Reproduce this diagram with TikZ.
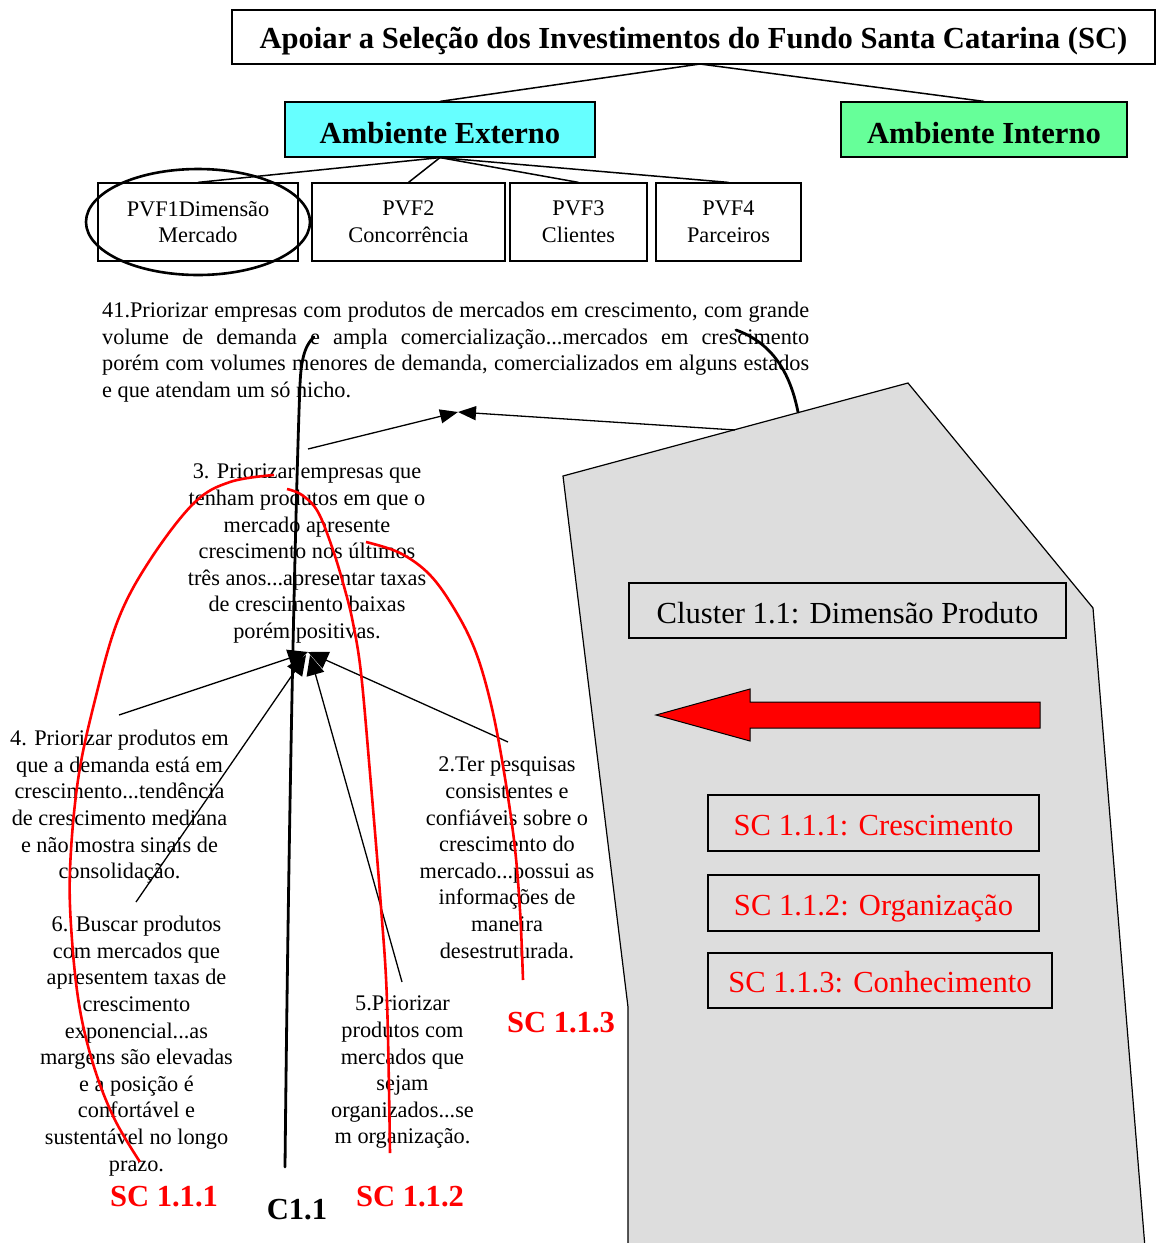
\documentclass[tikz,border=0pt]{standalone}
\usepackage{fontspec}
\setmainfont{Liberation Serif}
\usetikzlibrary{arrows.meta,calc}
\definecolor{extcyan}{RGB}{102,255,255}
\definecolor{intgreen}{RGB}{102,255,153}
\definecolor{clgray}{RGB}{221,221,221}
\definecolor{scred}{RGB}{255,0,0}
\newcommand\bigtxt{\fontsize{30.6}{36}\selectfont}
\newcommand\smalltxt{\fontsize{22.3}{26.6}\selectfont}
\begin{document}
\begin{tikzpicture}[x=1pt,y=-1pt,
  box/.style={draw, line width=1.2pt, inner sep=0pt, align=center},
  bigbox/.style={box, font=\bigtxt, text height=24pt, text depth=0pt},
  pvfbox/.style={box, font=\smalltxt, minimum height=78pt},
  scbox/.style={bigbox, text=scred, minimum height=56pt},
  note/.style={inner sep=0pt, align=center, font=\smalltxt, anchor=north},
  tree/.style={line width=1.5pt},
  link/.style={line width=1.3pt, -{Triangle[length=18pt,width=14pt]}},
  hublink/.style={line width=1.3pt, -{Triangle[length=20pt,width=18pt]}},
  thick curve/.style={line width=2.8pt, line cap=round},
  redcurve/.style={line width=2.6pt, scred},
  sclabel/.style={font=\bigtxt\bfseries, text=scred, inner sep=0pt}]
\useasboundingbox (0,0) rectangle (1157,1243);

% cluster region and its contents
\path[draw=black, line width=1.2pt, fill=clgray]
  (563,476) -- (908,383) -- (1093,608) -- (1146,1260) -- (628,1260) -- (628,1007) -- cycle;
\node[bigbox, fill=clgray, text height=25pt, minimum width=437pt, minimum height=55pt] (cluster) at (847.5,610.5) {Cluster 1.1: Dimensão Produto};
\path[draw=black, line width=1pt, fill=scred]
  (656,715) -- (750,689) -- (750,702) -- (1040,702) -- (1040,728) -- (750,728) -- (750,741) -- cycle;
\node[scbox, minimum width=331pt] (sc1) at (873.5,823) {SC 1.1.1: Crescimento};
\node[scbox, minimum width=331pt] (sc2) at (873.5,903) {SC 1.1.2: Organização};
\node[scbox, minimum width=344pt, minimum height=55pt] (sc3) at (880,980.5) {SC 1.1.3: Conhecimento};

% hierarchy at the top
\node[bigbox, font=\bigtxt\bfseries, text height=22pt, minimum width=923pt, minimum height=54pt] (goal) at (693.5,37) {Apoiar a Seleção dos Investimentos do Fundo Santa Catarina (SC)};
\node[bigbox, font=\bigtxt\bfseries, text height=27pt, fill=extcyan, minimum width=310pt, minimum height=55pt] (ext) at (440,129.5) {Ambiente Externo};
\node[bigbox, font=\bigtxt\bfseries, text height=27pt, fill=intgreen, minimum width=286pt, minimum height=55pt] (int) at (984,129.5) {Ambiente Interno};
\node[pvfbox, minimum width=200pt] (pvf1) at (198,222) {PVF1Dimensão\\Mercado};
\node[pvfbox, minimum width=193pt] (pvf2) at (408.5,222) {PVF2\\Concorrência};
\node[pvfbox, minimum width=137pt] (pvf3) at (578.5,222) {PVF3\\Clientes};
\node[pvfbox, minimum width=145pt] (pvf4) at (728.5,222) {PVF4\\Parceiros};
\coordinate (goalfoot) at (700,64);
\draw[tree] (goalfoot) -- (ext.north);
\draw[tree] (goalfoot) -- (int.north);
\foreach \p in {pvf1,pvf2,pvf3,pvf4} \draw[tree] (ext.south) -- (\p.north);
\draw[line width=2.6pt] (pvf1.center) ellipse [x radius=112pt, y radius=53pt];

% objectives
\node[inner sep=0pt, anchor=north west, text width=707pt, align=justify, font=\smalltxt] (t41) at (102,302)
 {41.Priorizar empresas com produtos de mercados em crescimento, com grande\linebreak
  volume de demanda e ampla comercialização...mercados em crescimento\linebreak
  porém com volumes menores de demanda, comercializados em alguns estados\linebreak
  e que atendam um só nicho.};
\node[note] (t3) at (307,464) {3. Priorizar empresas que\\tenham produtos em que o\\mercado apresente\\crescimento nos últimos\\três anos...apresentar taxas\\de crescimento baixas\\porém positivas.};
\node[note] (t4) at (119.5,730) {4. Priorizar produtos em\\que a demanda está em\\crescimento...tendência\\de crescimento mediana\\e não mostra sinais de\\consolidação.};
\node[note] (t2) at (507,757) {2.Ter pesquisas\\consistentes e\\confiáveis sobre o\\crescimento do\\mercado...possui as\\informações de\\maneira\\desestruturada.};
\node[note] (t6) at (136.5,916) {6. Buscar produtos\\com mercados que\\apresentem taxas de\\crescimento\\exponencial...as\\margens são elevadas\\e a posição é\\confortável e\\sustentável no longo\\prazo.};
\node[note] (t5) at (402.5,996) {5.Priorizar\\produtos com\\mercados que\\sejam\\organizados...se\\m organização.};

% influence links
\coordinate (meet) at (458,412);
\coordinate (t3top) at (308,449);
\coordinate (edge) at (735,430);
\draw[link] (t3top) -- (meet);
\draw[link] (edge) -- (meet);
\coordinate (t4top) at (119,715);
\coordinate (t6top) at (136,902);
\coordinate (t5top) at (402,982);
\coordinate (t2top) at (508,742);
\coordinate (hub) at (308,652);
\draw[hublink] (t4top) -- (hub);
\draw[hublink] (t6top) -- ($(hub)+(-2,3)$);
\draw[hublink] (t5top) -- ($(hub)+(2,3)$);
\draw[hublink] (t2top) -- (hub);

% cluster boundaries
\draw[thick curve] (285,1167) .. controls (290,700) and (298,430) .. (300,385) .. controls (301,357) and (306,344) .. (314,337);
\draw[thick curve] (798,412) .. controls (790,372) and (772,343) .. (736,330);
\draw[redcurve] plot[smooth, tension=0.6] coordinates {(274,475) (230,482) (194,503) (150,560) (118,620) (95,700) (78,780) (70,870) (72,940) (80,1010) (95,1070) (115,1120) (140,1162)};
\draw[redcurve] plot[smooth, tension=0.6] coordinates {(287,489) (302,495) (318,512) (333,550) (345,590) (353,623) (361,673) (370,773) (381,907) (387,1001) (390,1153)};
\draw[redcurve] plot[smooth, tension=0.6] coordinates {(366,542) (400,553) (430,575) (455,610) (475,650) (490,700) (502,760) (514,840) (520,910) (523,980)};

\node[sclabel] (l1) at (164,1197) {SC 1.1.1};
\node[sclabel, text=black] (l0) at (297,1210) {C1.1};
\node[sclabel] (l2) at (410,1197) {SC 1.1.2};
\node[sclabel] (l3) at (561,1023) {SC 1.1.3};
\end{tikzpicture}
\end{document}
